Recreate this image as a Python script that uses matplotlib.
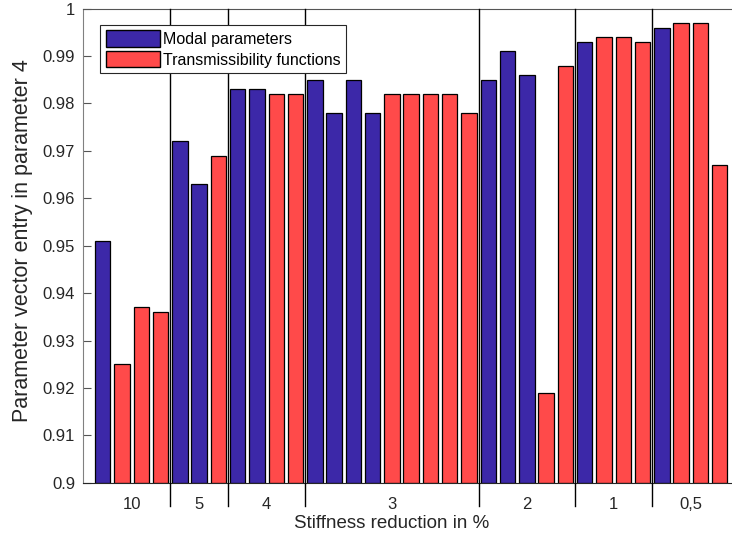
# Parameter vector entry 4 per stiffness reduction: modal parameters vs transmissibility functions
import numpy as np
import matplotlib.pyplot as plt
from matplotlib.patches import Patch

plt.rcParams['font.family'] = ['Liberation Sans', 'DejaVu Sans']

# %% Data
group_labels = ['10', '5', '4', '3', '2', '1', '0,5']
group_sizes = [4, 3, 4, 9, 5, 4, 4]

# 'M' = modal parameters, 'T' = transmissibility functions
bar_kind = ['M', 'T', 'T', 'T',
            'M', 'M', 'T',
            'M', 'M', 'T', 'T',
            'M', 'M', 'M', 'M', 'T', 'T', 'T', 'T', 'T',
            'M', 'M', 'M', 'T', 'T',
            'M', 'T', 'T', 'T',
            'M', 'T', 'T', 'T']
bar_values = [0.951, 0.925, 0.937, 0.936,
              0.972, 0.963, 0.969,
              0.983, 0.983, 0.982, 0.982,
              0.985, 0.978, 0.985, 0.978, 0.982, 0.982, 0.982, 0.982, 0.978,
              0.985, 0.991, 0.986, 0.919, 0.988,
              0.993, 0.994, 0.994, 0.993,
              0.996, 0.997, 0.997, 0.967]

col_modal = '#3C28A8'
col_trans = '#FF4A4A'
txt_col = '#262626'

# %% Figure
fig = plt.figure(figsize=(7.32, 5.43), dpi=100)
ax = fig.add_axes([0.114, 0.111, 0.8955, 0.873])

xpos = np.arange(1, len(bar_values) + 1)
colors = [col_modal if k == 'M' else col_trans for k in bar_kind]
ax.bar(xpos, np.array(bar_values) - 0.9, bottom=0.9, width=0.8,
       color=colors, edgecolor='black', linewidth=0.9, zorder=2)

# group separators and group labels
edges = np.cumsum(group_sizes)
bounds = np.concatenate(([0], edges)) + 0.5
centers = (bounds[:-1] + bounds[1:]) / 2
trans = ax.get_xaxis_transform()
for b in edges[:-1] + 0.5:
    ax.plot([b, b], [-0.05, 1.0], color='black', lw=1.0,
            transform=trans, clip_on=False, zorder=3)

ax.set_xlim(0, 34)
ax.set_ylim(0.9, 1.0)
ax.set_xticks(centers)
ax.set_xticklabels(group_labels)
ax.tick_params(axis='x', length=0, pad=10, labelsize=12, colors=txt_col)

yt = np.round(np.arange(0.9, 1.0001, 0.01), 2)
ax.set_yticks(yt)
ax.set_yticklabels(['%g' % v for v in yt])
ax.tick_params(axis='y', direction='in', length=6, width=0.8,
               labelsize=12, colors=txt_col, color='#555555', pad=6)

ax.spines['right'].set_visible(False)
ax.spines['left'].set_color('#808080')
ax.spines['top'].set_color('#555555')
ax.spines['bottom'].set_color('#262626')

ax.set_ylabel('Parameter vector entry in parameter 4', fontsize=15.5,
              color=txt_col)
ax.yaxis.set_label_coords(-0.077, 0.51)
fig.text(392 / 732, 1 - 524 / 543, 'Stiffness reduction in %', fontsize=13.5,
         color=txt_col, ha='center', va='center')

handles = [Patch(facecolor=col_modal, edgecolor='black', label='Modal parameters'),
           Patch(facecolor=col_trans, edgecolor='black', label='Transmissibility functions')]
leg = ax.legend(handles=handles, loc='upper left', bbox_to_anchor=(0.026, 0.966),
                borderaxespad=0, fontsize=11.5, fancybox=False, framealpha=1,
                handlelength=3.4, handleheight=1.2, handletextpad=0.15,
                labelspacing=0.25, borderpad=0.35)
leg.get_frame().set_edgecolor('#262626')
leg.get_frame().set_linewidth(0.8)

fig.savefig('out.png', dpi=100)
